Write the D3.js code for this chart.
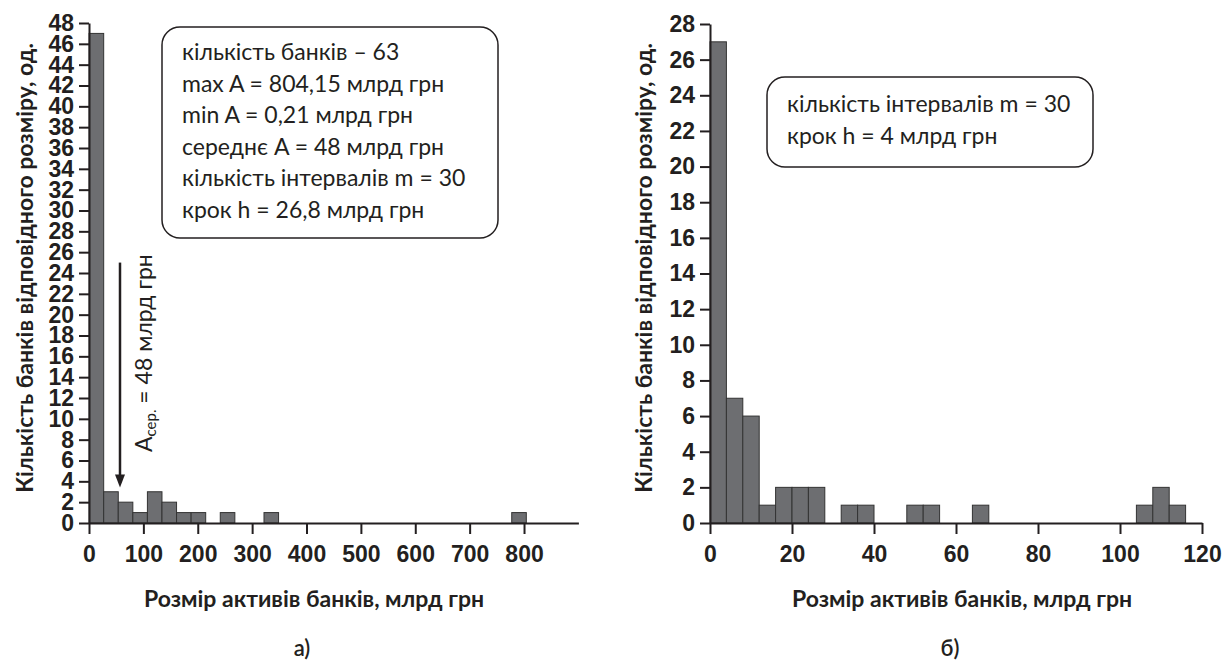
<!DOCTYPE html>
<html>
<head>
<meta charset="utf-8">
<script src="https://cdn.jsdelivr.net/npm/d3@7"></script>
<style>
  body { margin: 0; background: #fff; }
  svg { display: block; }
  .tick text { font-family: "Liberation Sans", Arial, sans-serif; font-weight: bold; font-size: 23px; fill: #231f20; }
  .tick line, .domain { stroke: #231f20; stroke-width: 2; }
</style>
</head>
<body>
<svg id="chart" width="1224" height="661"></svg>
<script>
// histogram a) - all banks, 30 intervals, step 26.8
const leftCounts = [47, 3, 2, 1, 3, 2, 1, 1, 0, 1, 0, 0, 1, 0, 0, 0, 0, 0, 0, 0, 0, 0, 0, 0, 0, 0, 0, 0, 0, 1];
const leftBinStart = 0.21;
const leftBinStep = 26.8;
const leftXTicks = [0, 100, 200, 300, 400, 500, 600, 700, 800];
const leftYTicks = [0, 2, 4, 6, 8, 10, 12, 14, 16, 18, 20, 22, 24, 26, 28, 30, 32, 34, 36, 38, 40, 42, 44, 46, 48];
const leftBoxLines = [
  "кількість банків – 63",
  "max A = 804,15 млрд грн",
  "min A = 0,21  млрд грн",
  "середнє A = 48 млрд грн",
  "кількість інтервалів m = 30",
  "крок h = 26,8 млрд грн"
];
const meanArrow = { x: 57, from: 25, to: 3.4 }; // arrow pointing at the mean

// histogram б) - banks up to 120 bn, 30 intervals, step 4
const rightCounts = [27, 7, 6, 1, 2, 2, 2, 0, 1, 1, 0, 0, 1, 1, 0, 0, 1, 0, 0, 0, 0, 0, 0, 0, 0, 0, 1, 2, 1, 0];
const rightBinStart = 0;
const rightBinStep = 4;
const rightXTicks = [0, 20, 40, 60, 80, 100, 120];
const rightYTicks = [0, 2, 4, 6, 8, 10, 12, 14, 16, 18, 20, 22, 24, 26, 28];
const rightBoxLines = [
  "кількість інтервалів m = 30",
  "крок h = 4 млрд грн"
];

const xTitle = "Розмір активів банків, млрд грн";
const yTitle = "Кількість банків відповідного розміру, од.";

const svg = d3.select("#chart");
const textFont = "Lato, 'Open Sans', sans-serif";

function drawHistogram(p) {
  const g = svg.append("g");
  const x = d3.scaleLinear().domain(p.xDomain).range(p.xRange);
  const y = d3.scaleLinear().domain(p.yDomain).range([523, p.yTop]);

  // bars
  const bins = p.counts.map((c, i) => ({ x0: p.binStart + i * p.binStep, c }))
    .filter(d => d.c > 0);
  g.selectAll("rect.bar")
    .data(bins)
    .join("rect")
    .attr("class", "bar")
    .attr("x", d => x(d.x0))
    .attr("width", x(p.binStep) - x(0))
    .attr("y", d => y(d.c))
    .attr("height", d => y(0) - y(d.c))
    .attr("fill", "#6d6e71")
    .attr("stroke", "#333")
    .attr("stroke-width", 1);

  // axes
  g.append("g")
    .attr("transform", `translate(0,${y(0)})`)
    .call(d3.axisBottom(x).tickValues(p.xTicks).tickSize(11).tickSizeOuter(0).tickPadding(12));
  g.append("g")
    .attr("transform", `translate(${x(0)},0)`)
    .call(d3.axisLeft(y).tickValues(p.yTicks).tickSize(10).tickSizeOuter(0).tickPadding(5));

  // axis titles
  g.append("text")
    .attr("x", p.xTitleX)
    .attr("y", 607)
    .attr("text-anchor", "middle")
    .attr("font-family", textFont)
    .attr("font-weight", "bold")
    .attr("font-size", 23)
    .attr("fill", "#231f20")
    .text(xTitle);
  g.append("text")
    .attr("transform", `translate(${p.yTitleX},268) rotate(-90)`)
    .attr("text-anchor", "middle")
    .attr("font-family", textFont)
    .attr("font-weight", "bold")
    .attr("font-size", 23)
    .attr("fill", "#231f20")
    .text(yTitle);

  // panel letter
  g.append("text")
    .attr("x", p.xTitleX - 12)
    .attr("y", 656)
    .attr("text-anchor", "middle")
    .attr("font-family", textFont)
    .attr("font-weight", 600)
    .attr("font-size", 22)
    .attr("fill", "#231f20")
    .text(p.letter);

  // info box
  const b = p.box;
  g.append("rect")
    .attr("x", b.x).attr("y", b.y)
    .attr("width", b.w).attr("height", b.h)
    .attr("rx", 18).attr("ry", 18)
    .attr("fill", "#fff")
    .attr("stroke", "#231f20")
    .attr("stroke-width", 1.5);
  g.append("g").selectAll("text")
    .data(p.boxLines)
    .join("text")
    .attr("x", b.x + 20)
    .attr("y", (d, i) => b.firstLine + i * 31.6)
    .attr("font-family", textFont)
    .attr("font-size", 23)
    .attr("fill", "#231f20")
    .text(d => d);

  return { g, x, y };
}

const left = drawHistogram({
  counts: leftCounts, binStart: leftBinStart, binStep: leftBinStep,
  xDomain: [0, 900], xRange: [89, 578.4], yDomain: [0, 48], yTop: 23,
  xTicks: leftXTicks, yTicks: leftYTicks,
  xTitleX: 314, yTitleX: 33, letter: "а)",
  box: { x: 162, y: 27, w: 336, h: 211, firstLine: 60 },
  boxLines: leftBoxLines
});

drawHistogram({
  counts: rightCounts, binStart: rightBinStart, binStep: rightBinStep,
  xDomain: [0, 120], xRange: [710, 1202], yDomain: [0, 28], yTop: 24,
  xTicks: rightXTicks, yTicks: rightYTicks,
  xTitleX: 962, yTitleX: 652, letter: "б)",
  box: { x: 767, y: 77, w: 326, h: 90, firstLine: 112 },
  boxLines: rightBoxLines
});

// arrow at the mean value on panel a)
const ax = left.x(meanArrow.x);
left.g.append("line")
  .attr("x1", ax).attr("x2", ax)
  .attr("y1", left.y(meanArrow.from))
  .attr("y2", left.y(meanArrow.to) - 8)
  .attr("stroke", "#231f20")
  .attr("stroke-width", 2.5);
const tipY = left.y(meanArrow.to);
left.g.append("polygon")
  .attr("points", `${ax},${tipY} ${ax - 5},${tipY - 13} ${ax + 5},${tipY - 13}`)
  .attr("fill", "#231f20");

const note = left.g.append("text")
  .attr("transform", `translate(${ax + 32},452) rotate(-90)`)
  .attr("font-family", textFont)
  .attr("font-size", 23)
  .attr("fill", "#231f20");
note.append("tspan").text("A");
note.append("tspan").attr("font-size", 15).attr("dy", 4).text("сер.");
note.append("tspan").attr("dy", -4).text(" = 48 млрд грн");
</script>
</body>
</html>
